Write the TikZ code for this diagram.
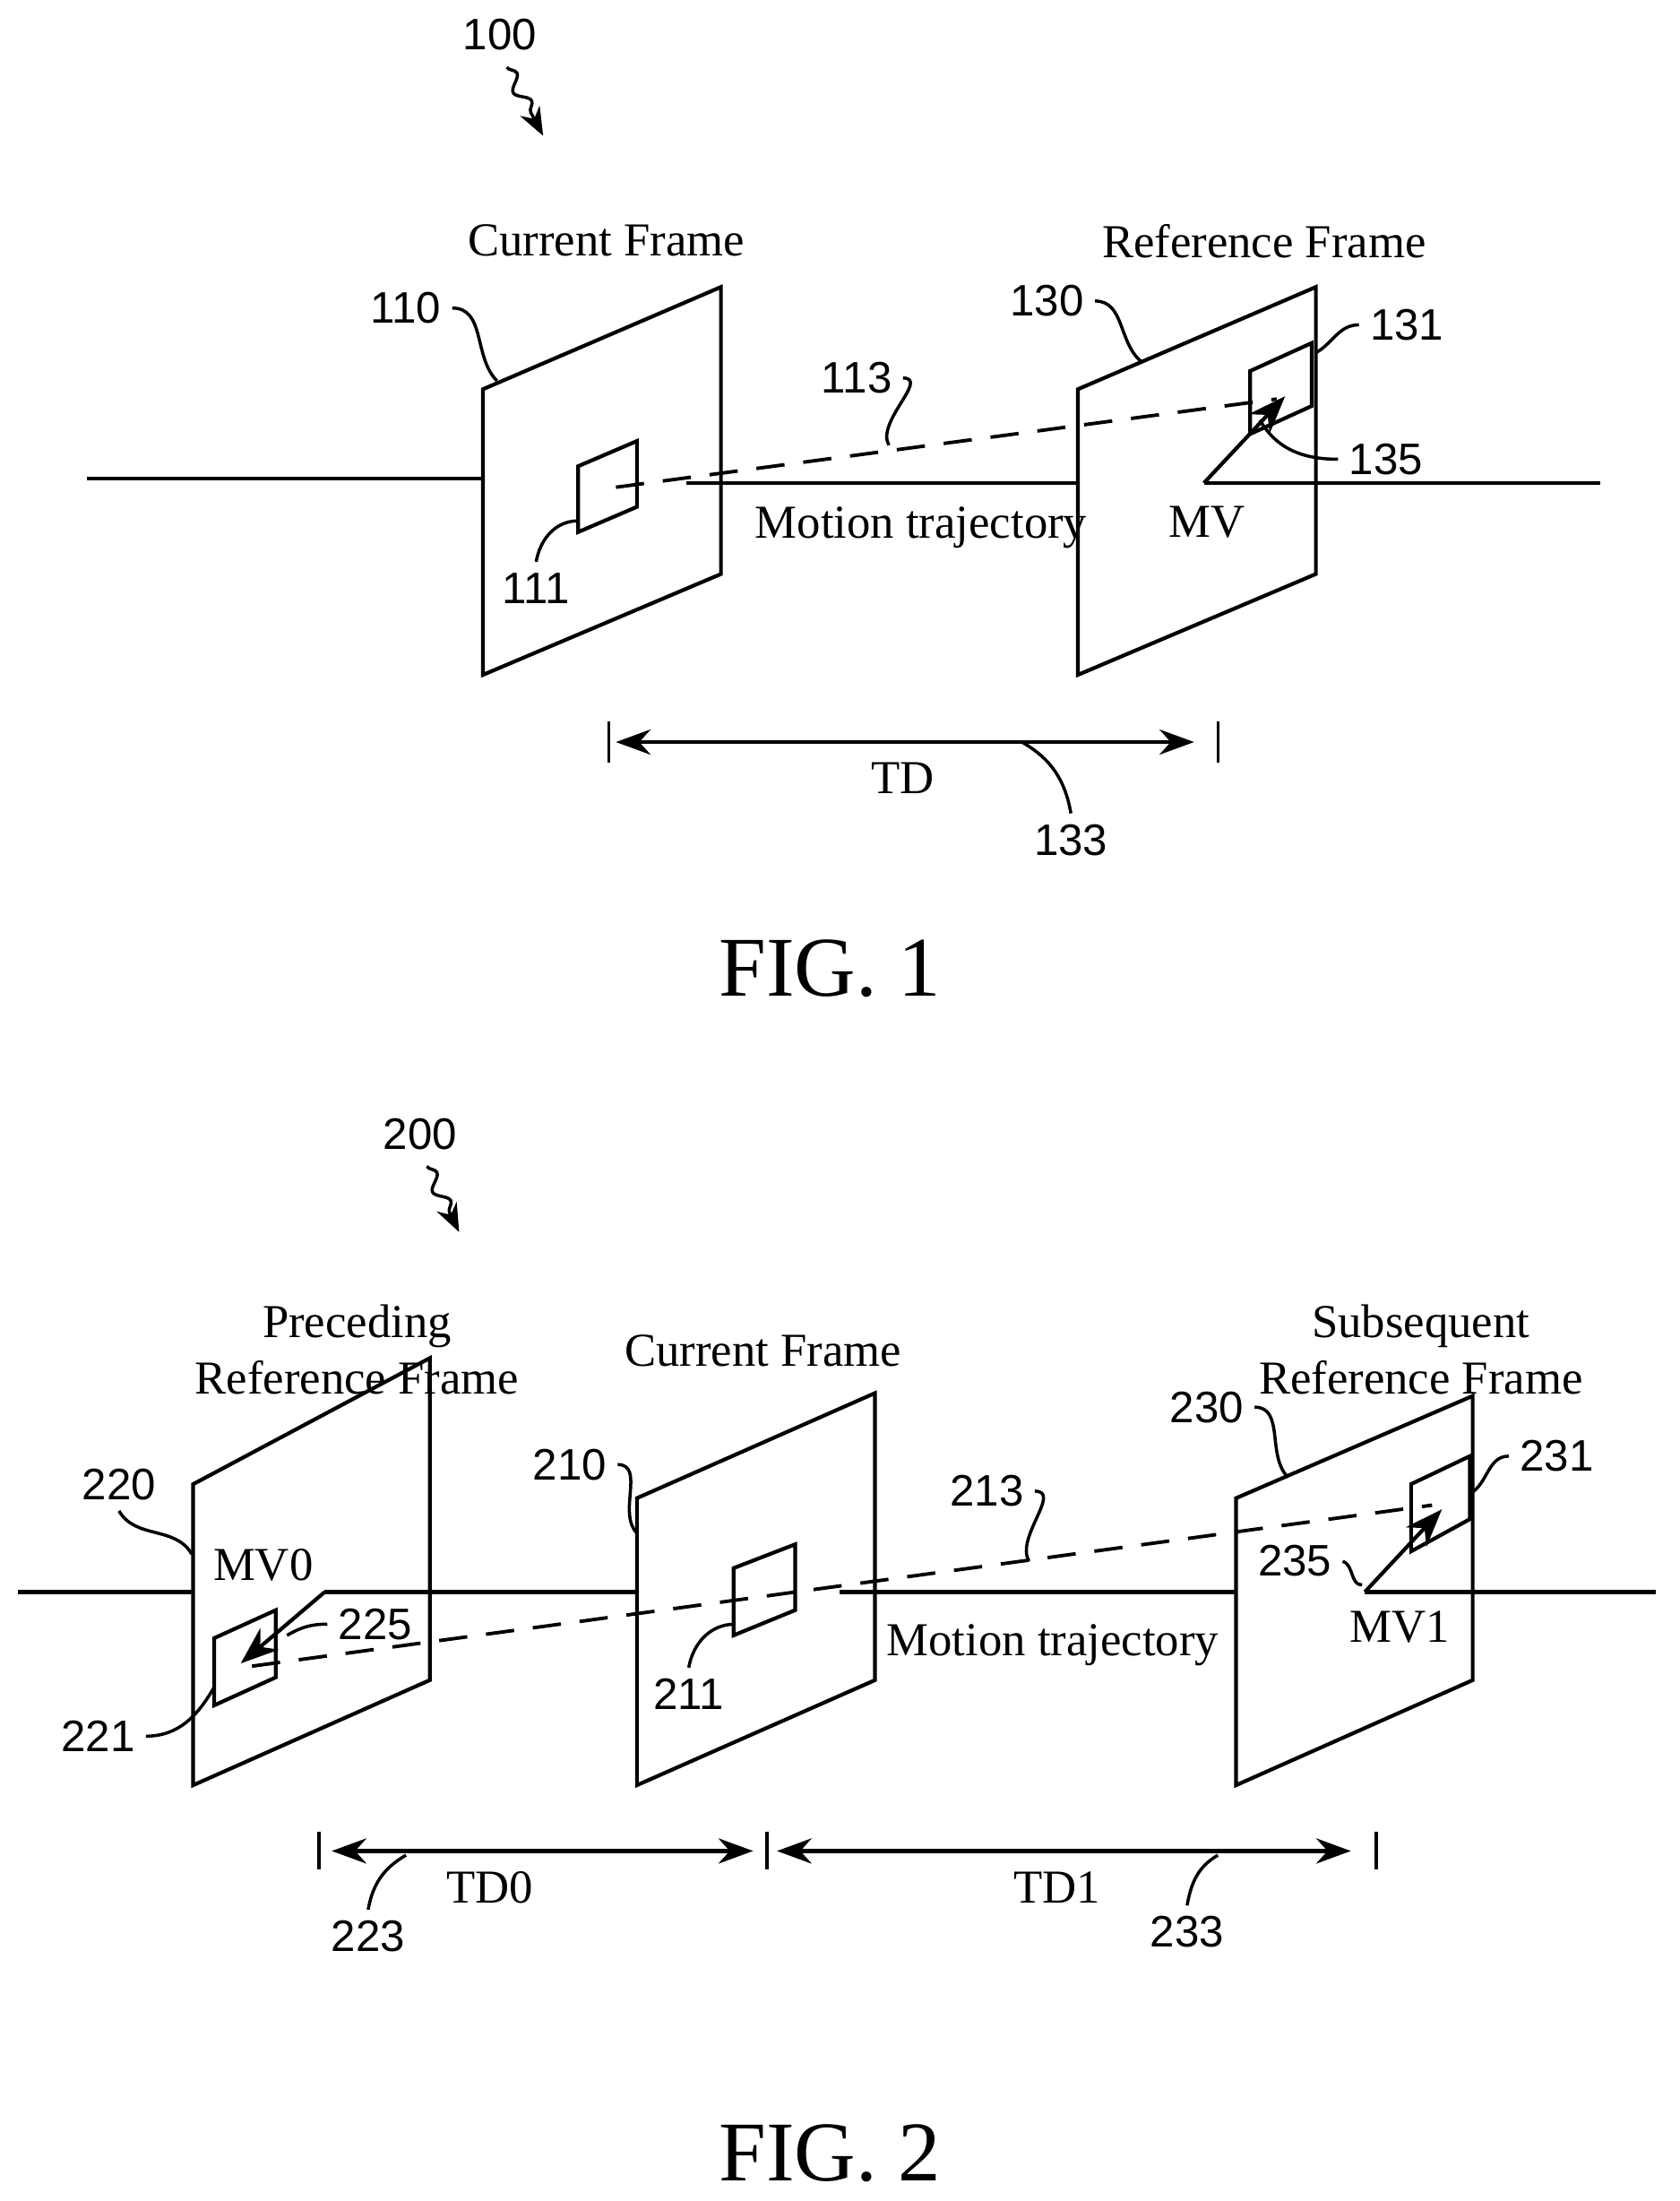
\documentclass[tikz,border=0pt]{standalone}
\usepackage{fontspec}
\setmainfont{Liberation Serif}
\newfontfamily\numfont{Liberation Sans}
\usetikzlibrary{arrows.meta,positioning,decorations.pathmorphing}
\tikzset{
  frame/.style={line width=1.2pt,fill=white},
  blk/.style={line width=1.2pt,fill=white},
  traj/.style={line width=1.2pt},
  dashtraj/.style={line width=1.1pt,dash pattern=on 9pt off 6pt},
  mv/.style={line width=1.2pt,-{Stealth[length=12pt,width=9pt]}},
  lead/.style={line width=1pt},
  span/.style={line width=1.2pt,{Stealth[length=11pt,width=8pt]}-{Stealth[length=11pt,width=8pt]}},
  lbl/.style={font=\fontsize{15}{18}\selectfont},
  num/.style={font=\numfont\fontsize{14}{16}\selectfont},
  fig/.style={font=\fontsize{27}{30}\selectfont},
  wiggle/.style={line width=1pt,decorate,decoration={snake,amplitude=2pt,segment length=10pt,post length=6pt},-{Stealth[length=9pt,width=7pt]}}
}
\begin{document}
\begin{tikzpicture}[x=0.015625cm,y=-0.015625cm]
\useasboundingbox (0,0) rectangle (1200,1572);
% FIG. 1
\node[num] (n100) at (357,25) {100};
\draw[wiggle] (362,48) -- (388,97);
\draw[traj] (62,342) -- (345,342);
\draw[frame] (345,278) -- (515,205) -- (515,410) -- (345,482) -- cycle;
\draw[blk] (413,333) -- (455,315) -- (455,362) -- (413,380) -- cycle;
\draw[traj] (490,345) -- (770,345);
\draw[frame] (770,278) -- (940,205) -- (940,410) -- (770,482) -- cycle;
\draw[blk] (893,265) -- (937,245) -- (937,290) -- (893,310) -- cycle;
\draw[traj] (860,345) -- (1143,345);
\coordinate (mva) at (860,345);
\coordinate (mvb) at (918,283);
\draw[mv] (mva) -- (mvb);
\draw[dashtraj] (440,348) -- (912,285);
\node[lbl] (cur) at (433,172) {Current Frame};
\node[lbl] (ref) at (903,172) {Reference Frame};
\node[lbl] (traj1) at (658,377) {Motion trajectory};
\node[lbl] (mv1) at (862,373) {MV};
\node[num] (n110) at (290,220) {110};
\draw[lead] (n110.east) to[out=0,in=135] (355,272);
\node[num] (n130) at (748,215) {130};
\draw[lead] (n130.east) to[out=0,in=140] (815,258);
\node[num] (n131) at (1005,232) {131};
\draw[lead] (n131.west) to[out=180,in=30] (940,252);
\node[num] (n113) at (612,270) {113};
\draw[lead] (n113.east) to[out=0,in=120] (635,318);
\node[num] (n135) at (990,328) {135};
\draw[lead] (n135.west) to[out=180,in=-60] (900,300);
\node[num] (n111) at (383,420) {111};
\draw[lead] (n111.north) to[out=80,in=180] (413,372);
\draw[line width=1pt] (435,515) -- (435,545) (870,515) -- (870,545);
\draw[span] (440,530) -- (853,530);
\node[lbl] (td) at (645,556) {TD};
\node[num] (n133) at (765,600) {133};
\draw[lead] (n133.north) to[out=100,in=-30] (730,530);
\node[fig] (fig1) at (593,692) {FIG. 1};
% FIG. 2
\node[num] (n200) at (300,810) {200};
\draw[wiggle] (305,833) -- (328,880);
\draw[traj] (13,1137) -- (138,1137);
\draw[frame] (138,1060) -- (307,970) -- (307,1200) -- (138,1275) -- cycle;
\draw[blk] (153,1170) -- (197,1150) -- (197,1198) -- (153,1218) -- cycle;
\draw[traj] (232,1137) -- (455,1137);
\draw[frame] (455,1070) -- (625,995) -- (625,1200) -- (455,1275) -- cycle;
\draw[blk] (524,1120) -- (568,1103) -- (568,1150) -- (524,1168) -- cycle;
\draw[traj] (600,1137) -- (883,1137);
\draw[frame] (883,1070) -- (1052,997) -- (1052,1200) -- (883,1275) -- cycle;
\draw[blk] (1008,1060) -- (1050,1040) -- (1050,1085) -- (1008,1108) -- cycle;
\draw[traj] (975,1137) -- (1183,1137);
\coordinate (mv0a) at (232,1137);
\coordinate (mv0b) at (172,1188);
\draw[mv] (mv0a) -- (mv0b);
\coordinate (mv1a) at (975,1137);
\coordinate (mv1b) at (1030,1078);
\draw[mv] (mv1a) -- (mv1b);
\draw[dashtraj] (180,1190) -- (1023,1075);
\node[lbl,align=center] (pre) at (255,964) {Preceding\\Reference Frame};
\node[lbl] (cur2) at (545,965) {Current Frame};
\node[lbl,align=center] (sub) at (1015,964) {Subsequent\\Reference Frame};
\node[lbl] (traj2) at (752,1175) {Motion trajectory};
\node[lbl] (mv0) at (188,1118) {MV0};
\node[lbl] (mv1l) at (1000,1162) {MV1};
\node[num] (n220) at (85,1060) {220};
\draw[lead] (n220.south) to[out=-60,in=120] (137,1110);
\node[num] (n225) at (268,1160) {225};
\draw[lead] (n225.west) to[out=180,in=30] (205,1168);
\node[num] (n221) at (70,1240) {221};
\draw[lead] (n221.east) to[out=0,in=-120] (153,1205);
\node[num] (n210) at (407,1046) {210};
\draw[lead] (n210.east) to[out=0,in=135] (455,1095);
\node[num] (n211) at (492,1210) {211};
\draw[lead] (n211.north) to[out=80,in=180] (525,1160);
\node[num] (n213) at (705,1065) {213};
\draw[lead] (n213.east) to[out=0,in=120] (735,1115);
\node[num] (n230) at (862,1005) {230};
\draw[lead] (n230.east) to[out=0,in=135] (920,1055);
\node[num] (n231) at (1112,1040) {231};
\draw[lead] (n231.west) to[out=180,in=30] (1050,1067);
\node[num] (n235) at (925,1115) {235};
\draw[lead] (n235.east) to[out=-20,in=180] (973,1132);
\draw[line width=1pt] (228,1308) -- (228,1335) (548,1308) -- (548,1335) (983,1308) -- (983,1335);
\draw[span] (237,1322) -- (538,1322);
\draw[span] (555,1322) -- (965,1322);
\node[lbl] (td0) at (350,1348) {TD0};
\node[lbl] (td1) at (755,1348) {TD1};
\node[num] (n223) at (263,1383) {223};
\draw[lead] (n223.north) to[out=80,in=-150] (290,1325);
\node[num] (n233) at (848,1380) {233};
\draw[lead] (n233.north) to[out=80,in=-150] (870,1325);
\node[fig] (fig2) at (593,1538) {FIG. 2};
\end{tikzpicture}
\end{document}
